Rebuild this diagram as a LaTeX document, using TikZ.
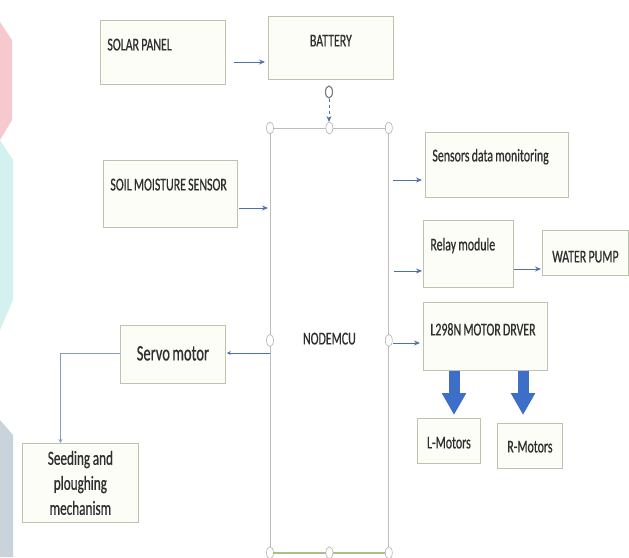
\documentclass[tikz,border=0pt]{standalone}
\usepackage{fontspec}
\setmainfont{Carlito}[FakeStretch=0.66, FakeBold=0.6]
\usetikzlibrary{arrows.meta,shapes.geometric}
\hyphenpenalty=10000
\definecolor{boxline}{HTML}{BCC4AE}
\definecolor{boxfill}{HTML}{FCFDF7}
\definecolor{mculine}{HTML}{BDBDBD}
\definecolor{mcugreen}{HTML}{A9C08A}
\definecolor{arrblue}{HTML}{4F71A8}
\definecolor{fatblue}{HTML}{3D6FC9}
\definecolor{txtgrey}{HTML}{2E2E2E}
\definecolor{wmpink}{HTML}{F6C9CF}
\definecolor{wmcyan}{HTML}{D3F1EE}
\definecolor{wmgrey}{HTML}{C9D3DB}
\tikzset{
    blk/.style={draw=boxline, fill=boxfill, line width=0.8pt, inner xsep=7pt, inner ysep=0pt,
        align=left, anchor=north west, text=txtgrey, font=\fontsize{18}{22}\selectfont,
        execute at begin node={\spaceskip=2.2pt plus 1pt minus 0.5pt\relax}},
    arr/.style={draw=arrblue, line width=0.9pt, -{Stealth[length=6pt,width=5pt]}},
    fat/.style={draw=fatblue, line width=11pt, -{Triangle[length=22pt,width=23pt]}},
    handle/.style={ellipse, draw=gray!60, fill=white, line width=0.6pt,
        minimum width=7pt, minimum height=12pt, inner sep=0pt}
}
\begin{document}
\begin{tikzpicture}[x=1pt,y=-1pt]
    \useasboundingbox (0,0) rectangle (629,557);
    %% faint page marks on the left edge
    \fill[wmpink] (0,22) -- (12,40) -- (12,120) -- (0,140) -- cycle;
    \fill[wmcyan] (0,140) -- (13,160) -- (13,300) -- (0,330) -- cycle;
    \fill[wmgrey] (0,420) -- (13,435) -- (13,557) -- (0,557) -- cycle;
    %% blocks
    \node[blk, text width=111pt, text height=30pt, text depth=34pt] (solar) at (100,20) {SOLAR PANEL};
    \node[blk, align=center, text width=111pt, text height=30pt, text depth=33pt] (battery) at (268,16) {BATTERY};
    \node[blk, draw=mculine, fill=white, align=center, text width=104pt, text height=216pt, text depth=208pt] (nodemcu) at (270,128) {NODEMCU};
    \node[blk, text width=120pt, text height=30pt, text depth=37pt] (soil) at (103,160) {SOIL MOISTURE SENSOR};
    \node[blk, text width=129pt, text height=29pt, text depth=36pt] (sensors) at (425,132) {Sensors data monitoring};
    \node[blk, text width=76pt, text height=30pt, text depth=37pt] (relay) at (423,220) {Relay module};
    \node[blk, align=center, text width=72pt, text height=32pt, text depth=13pt] (pump) at (542,230) {WATER PUMP};
    \node[blk, text width=110pt, text height=33pt, text depth=35pt] (driver) at (423,302) {L298N MOTOR DRVER};
    \node[blk, align=center, text width=49pt, text height=30pt, text depth=15pt] (lmot) at (417,418) {L-Motors};
    \node[blk, align=center, text width=51pt, text height=29pt, text depth=16pt] (rmot) at (497,423) {R-Motors};
    \node[blk, align=center, text width=91pt, text height=35pt, text depth=23pt,
        font=\fontsize{22}{26}\selectfont] (servo) at (120,325) {Servo motor};
    \node[blk, align=center, text width=102pt, minimum height=79pt,
        font=\fontsize{20}{25}\selectfont] (seed) at (22,443) {Seeding and\\ploughing\\mechanism};
    %% links
    \draw[arr, shorten <=8pt, shorten >=3pt] (solar.east |- 0,62) -- (battery.west |- 0,62);
    \node[handle, draw=gray, line width=1.2pt] (plug) at (329,92) {};
    \draw[arr, dashed, shorten >=6pt] (plug.south) -- (plug |- nodemcu.north);
    \draw[arr, shorten <=1pt, shorten >=2pt] (soil.east |- 0,208) -- (nodemcu.west |- 0,208);
    \draw[arr, shorten <=4pt, shorten >=3pt] (nodemcu.east |- 0,180) -- (sensors.west |- 0,180);
    \draw[arr, shorten <=5pt, shorten >=1pt] (nodemcu.east |- 0,271) -- (relay.west |- 0,271);
    \draw[arr, shorten >=1pt] (relay.east |- 0,269) -- (pump.west |- 0,269);
    \draw[arr, shorten <=4pt, shorten >=3pt] (nodemcu.east |- 0,343) -- (driver.west |- 0,343);
    \draw[arr, line width=0.7pt, -{Stealth[length=4pt,width=4pt]}, shorten >=1pt] (nodemcu.west |- 0,353) -- (servo.east |- 0,353);
    \draw[arr, draw=arrblue!70, line width=0.7pt, -{Stealth[length=4pt,width=4pt]}] (servo.west |- 0,353) -| ([xshift=-20pt]seed.north);
    \draw[fat, shorten >=3pt] (driver.south -| 454,0) -- (lmot.north -| 454,0);
    \draw[fat, shorten >=8pt] (driver.south -| 523,0) -- (rmot.north -| 523,0);
    %% selection handles of the NODEMCU frame
    \draw[mcugreen, line width=1.6pt] (nodemcu.south west) -- (nodemcu.south east);
    \foreach \a/\n in {north west/nw,north/n,north east/ne,west/w,east/e,south west/sw,south/s,south east/se}
        \node[handle] (hd\n) at (nodemcu.\a) {};
\end{tikzpicture}
\end{document}
